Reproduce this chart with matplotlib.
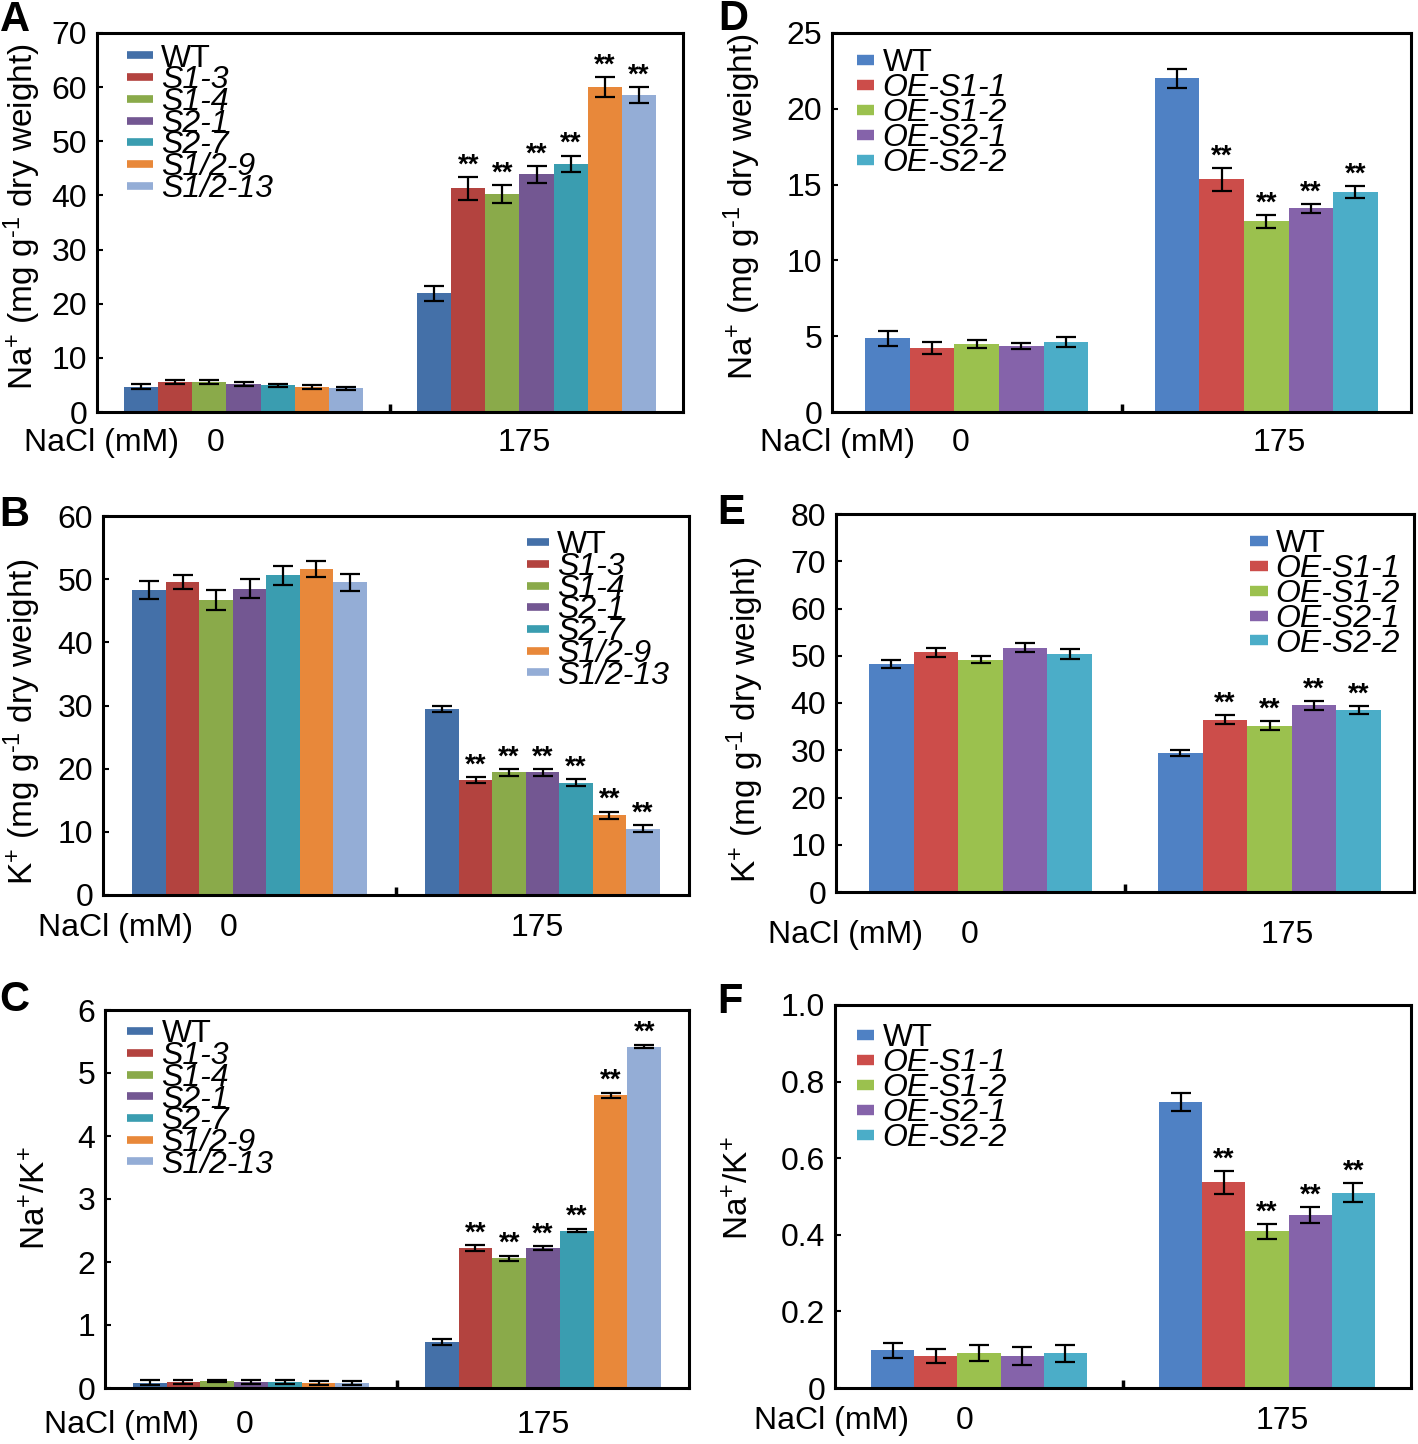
import matplotlib
matplotlib.use('Agg')
import matplotlib.pyplot as plt
from matplotlib.lines import Line2D
import numpy as np

plt.rcParams['font.family'] = ['Liberation Sans', 'DejaVu Sans']
plt.rcParams['mathtext.fontset'] = 'custom'
plt.rcParams['mathtext.rm'] = 'Liberation Sans'
plt.rcParams['mathtext.it'] = 'Liberation Sans:italic'
plt.rcParams['mathtext.bf'] = 'Liberation Sans:bold'

# ---------------- data ----------------
conditions = ['0', '175']
mut_lines = ['WT', 'S1-3', 'S1-4', 'S2-1', 'S2-7', 'S1/2-9', 'S1/2-13']
oe_lines = ['WT', 'OE-S1-1', 'OE-S1-2', 'OE-S2-1', 'OE-S2-2']

# A: Na+ content, mutants
na_mut_0 = [4.7, 5.5, 5.5, 5.2, 4.9, 4.6, 4.4]
na_mut_0_err = [0.5, 0.4, 0.4, 0.4, 0.3, 0.4, 0.3]
na_mut_175 = [21.9, 41.3, 40.2, 43.9, 45.8, 60.0, 58.6]
na_mut_175_err = [1.4, 2.1, 1.65, 1.55, 1.55, 1.8, 1.45]

# B: K+ content, mutants
k_mut_0 = [48.3, 49.5, 46.7, 48.5, 50.6, 51.6, 49.5]
k_mut_0_err = [1.4, 1.1, 1.6, 1.45, 1.55, 1.2, 1.3]
k_mut_175 = [29.4, 18.2, 19.4, 19.4, 17.8, 12.6, 10.5]
k_mut_175_err = [0.5, 0.5, 0.5, 0.5, 0.5, 0.6, 0.6]

# C: Na+/K+, mutants
ratio_mut_0 = [0.08, 0.10, 0.11, 0.10, 0.09, 0.08, 0.08]
ratio_mut_0_err = [0.04, 0.03, 0.015, 0.03, 0.03, 0.03, 0.03]
ratio_mut_175 = [0.73, 2.22, 2.06, 2.22, 2.50, 4.65, 5.42]
ratio_mut_175_err = [0.04, 0.05, 0.04, 0.03, 0.03, 0.04, 0.03]

# D: Na+ content, overexpression
na_oe_0 = [4.85, 4.25, 4.5, 4.37, 4.63]
na_oe_0_err = [0.5, 0.4, 0.25, 0.2, 0.35]
na_oe_175 = [22.0, 15.35, 12.57, 13.43, 14.52]
na_oe_175_err = [0.65, 0.75, 0.4, 0.3, 0.4]

# E: K+ content, overexpression
k_oe_0 = [48.3, 50.7, 49.2, 51.7, 50.4]
k_oe_0_err = [0.8, 1.0, 0.8, 1.0, 1.1]
k_oe_175 = [29.4, 36.5, 35.2, 39.5, 38.5]
k_oe_175_err = [0.6, 0.9, 0.9, 0.9, 0.9]

# F: Na+/K+, overexpression
ratio_oe_0 = [0.098, 0.083, 0.091, 0.083, 0.091]
ratio_oe_0_err = [0.02, 0.018, 0.02, 0.023, 0.022]
ratio_oe_175 = [0.746, 0.537, 0.409, 0.452, 0.510]
ratio_oe_175_err = [0.023, 0.03, 0.019, 0.02, 0.025]

# significance at 175 mM (** vs WT)
sig_mut = [False, True, True, True, True, True, True]
sig_oe = [False, True, True, True, True]

# ---------------- style ----------------
mut_colors = ['#4470A8', '#B3433F', '#8AAA4A', '#735792', '#3A9DB0', '#E8883A', '#94ADD6']
oe_colors = ['#4F81C4', '#CC4D4A', '#9BC14E', '#8563AA', '#4BADC8']

W, H = 1418, 1444
fig = plt.figure(figsize=(W / 100, H / 100), dpi=100)


def px_axes(l, r, t, b):
    return fig.add_axes([l / W, 1 - b / H, (r - l) / W, (b - t) / H])


def ftext(x, y, s, **kw):
    fig.text(x / W, 1 - y / H, s, **kw)


def panel(box, lines, colors, v0, e0, v175, e175, sig, ymax, yticks, ytick_labels,
          group_w, leg_loc, leg_anchor, leg_spacing, handle_len, handle_lw, star_off):
    ax = px_axes(*box)
    n = len(lines)
    bw = group_w / n
    x_groups = np.arange(len(conditions))
    vals = [v0, v175]
    errs = [e0, e175]
    for i in range(n):
        xs = x_groups - group_w / 2 + bw * (i + 0.5)
        hs = [vals[g][i] for g in range(2)]
        es = [errs[g][i] for g in range(2)]
        ax.bar(xs, hs, width=bw, color=colors[i], edgecolor='none', zorder=2)
        ax.errorbar(xs, hs, yerr=es, fmt='none', ecolor='black', elinewidth=1.6,
                    capsize=7, capthick=1.6, zorder=3)
        if sig[i]:
            ax.annotate('**', xy=(xs[1], hs[1] + es[1]), xytext=(0, star_off),
                        textcoords='offset points', ha='center', va='bottom',
                        fontsize=20, fontweight='bold', zorder=4)
    ax.set_xlim(-0.5, 1.5)
    ax.set_ylim(0, ymax)
    ax.set_yticks(yticks)
    ax.set_yticklabels(ytick_labels)
    ax.tick_params(axis='y', direction='in', length=4, width=1.5, labelsize=23, pad=7)
    ax.set_xticks([0.5])
    ax.set_xticklabels([''])
    ax.tick_params(axis='x', direction='in', length=6, width=2.5)
    for sp in ax.spines.values():
        sp.set_linewidth(2.2)
        sp.set_color('black')
    handles = [Line2D([0], [0], color=c, lw=handle_lw, solid_capstyle='butt') for c in colors]
    leg = ax.legend(handles, lines, loc=leg_loc, bbox_to_anchor=leg_anchor,
                    frameon=False, fontsize=23, labelspacing=leg_spacing,
                    handlelength=handle_len, handletextpad=0.25, borderpad=0,
                    borderaxespad=0)
    for t in leg.get_texts()[1:]:
        t.set_fontstyle('italic')
    return ax


def int_labels(ticks):
    return ['{:d}'.format(t) for t in ticks]


# Panel A
tA = list(range(0, 71, 10))
panel((97, 683, 33, 412), mut_lines, mut_colors, na_mut_0, na_mut_0_err,
      na_mut_175, na_mut_175_err, sig_mut, 70, tA, int_labels(tA),
      0.815, 'upper left', (0.051, 0.972), -0.26, 0.82, 5.5, -1)
# Panel B
tB = list(range(0, 61, 10))
panel((103, 689, 516, 895), mut_lines, mut_colors, k_mut_0, k_mut_0_err,
      k_mut_175, k_mut_175_err, sig_mut, 60, tB, int_labels(tB),
      0.80, 'upper right', (0.966, 0.962), -0.26, 0.7, 5.5, -1)
# Panel C
tC = list(range(0, 7))
panel((105, 689, 1010, 1388), mut_lines, mut_colors, ratio_mut_0, ratio_mut_0_err,
      ratio_mut_175, ratio_mut_175_err, sig_mut, 6, tC, int_labels(tC),
      0.81, 'upper left', (0.038, 0.975), -0.26, 0.82, 5.5, -1)
# Panel D
tD = list(range(0, 26, 5))
panel((832, 1411, 33, 412), oe_lines, oe_colors, na_oe_0, na_oe_0_err,
      na_oe_175, na_oe_175_err, sig_oe, 25, tD, int_labels(tD),
      0.77, 'upper left', (0.043, 0.96), -0.16, 0.55, 7.5, -1)
# Panel E
tE = list(range(0, 81, 10))
panel((836, 1414, 514, 892), oe_lines, oe_colors, k_oe_0, k_oe_0_err,
      k_oe_175, k_oe_175_err, sig_oe, 80, tE, int_labels(tE),
      0.77, 'upper right', (0.976, 0.96), -0.16, 0.55, 7.5, -1)
# Panel F
tF = [0, 0.2, 0.4, 0.6, 0.8, 1.0]
panel((835, 1411, 1005, 1388), oe_lines, oe_colors, ratio_oe_0, ratio_oe_0_err,
      ratio_oe_175, ratio_oe_175_err, sig_oe, 1.0, tF,
      ['0', '0.2', '0.4', '0.6', '0.8', '1.0'],
      0.75, 'upper left', (0.038, 0.952), -0.16, 0.55, 7.5, -1)

# y labels
ylab_na = r'Na$^{+}$ (mg g$^{\text{-}1}$ dry weight)'
ylab_k = r'K$^{+}$ (mg g$^{\text{-}1}$ dry weight)'
ylab_r = r'Na$^{+}$/K$^{+}$'
for (x, y, s) in [(22, 217, ylab_na), (22, 722, ylab_k), (37, 1198, ylab_r),
                  (742, 207, ylab_na), (745, 720, ylab_k), (740, 1188, ylab_r)]:
    ftext(x, y, s, rotation=90, ha='center', va='center', fontsize=24)

# x category labels
for (xn, x0, x175, y) in [(102, 216, 524, 443), (115, 229, 537, 928), (121, 245, 543, 1425),
                          (838, 961, 1279, 443), (845, 970, 1287, 935), (832, 965, 1282, 1421)]:
    ftext(xn, y, 'NaCl (mM)', ha='center', va='center', fontsize=23)
    ftext(x0, y, conditions[0], ha='center', va='center', fontsize=23)
    ftext(x175, y, conditions[1], ha='center', va='center', fontsize=23)

# panel letters
for (x, y, s) in [(15, 20, 'A'), (14, 515, 'B'), (14, 1000, 'C'),
                  (733, 19, 'D'), (731, 513, 'E'), (730, 1002, 'F')]:
    ftext(x, y, s, ha='center', va='center', fontsize=30, fontweight='bold')

fig.savefig('out.png', dpi=100)
